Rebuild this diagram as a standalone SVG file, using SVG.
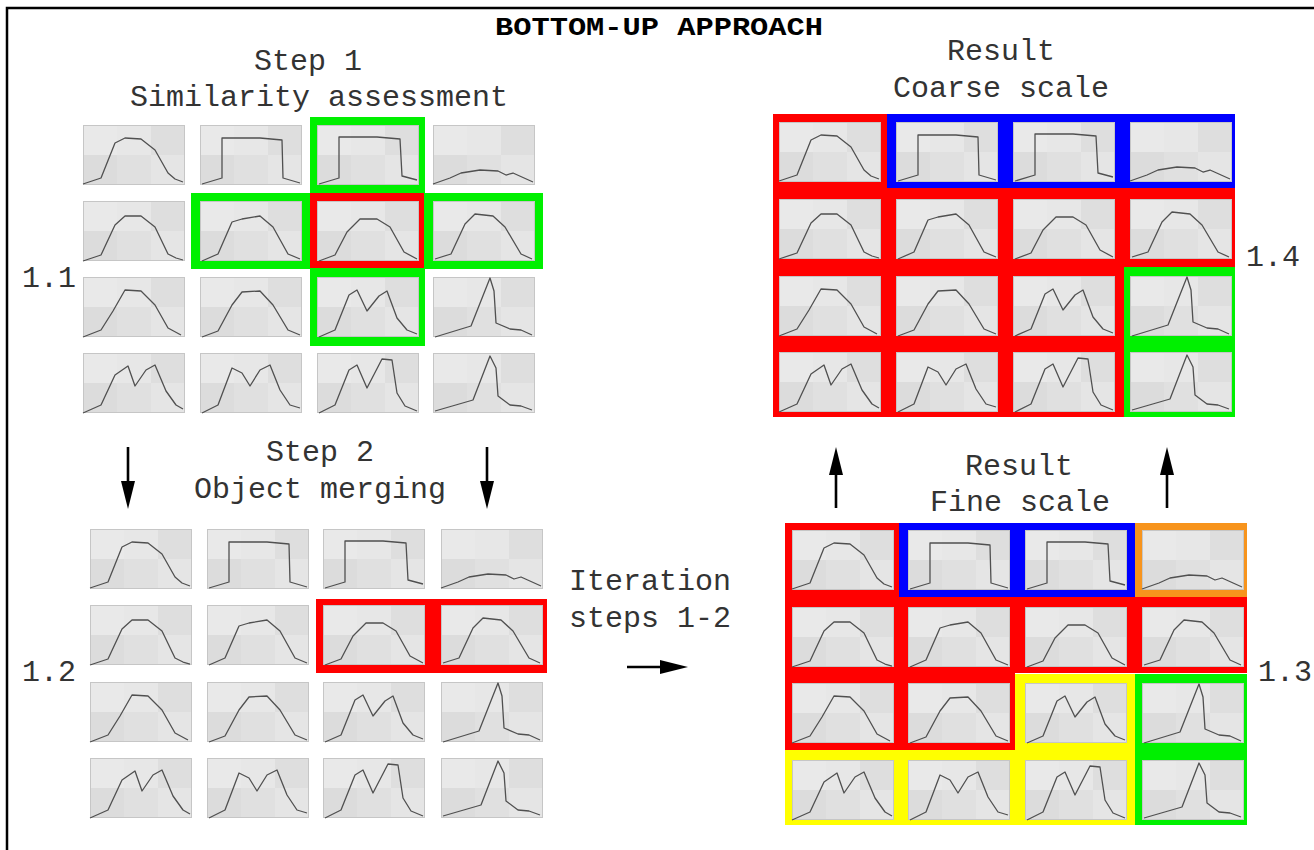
<svg xmlns="http://www.w3.org/2000/svg" xmlns:xlink="http://www.w3.org/1999/xlink" width="1314" height="850" viewBox="0 0 1314 850">
<style>
.t{font-family:"Courier New","Liberation Mono",monospace;font-size:30px;fill:#333;text-anchor:middle}
.tl{font-family:"Courier New","Liberation Mono",monospace;font-size:30px;fill:#333}
.title{font-family:"Courier New","Liberation Mono",monospace;font-size:25px;font-weight:bold;fill:#000;text-anchor:middle}
.pl{fill:none;stroke:#505050;stroke-width:1.3;stroke-linejoin:round}
.arr{stroke:#000;stroke-width:2.6;fill:none}
.red{fill:#ff0000}.grn{fill:#00f000}.blu{fill:#0000ff}.org{fill:#f7941d}.yel{fill:#ffff00}
</style>
<defs>
<marker id="ah" viewBox="0 0 28 14" refX="0" refY="7" markerWidth="28" markerHeight="14" orient="auto" markerUnits="userSpaceOnUse"><path d="M0,0 L28,7 L0,14 z" fill="#000"/></marker>
<g id="bg">
<rect width="102" height="60" fill="#e2e2e2"/>
<rect x="0" y="0" width="34" height="30" fill="#e9e9e9"/>
<rect x="34" y="0" width="34" height="30" fill="#e7e7e7"/>
<rect x="68" y="0" width="34" height="30" fill="#dedede"/>
<rect x="0" y="30" width="34" height="30" fill="#dcdcdc"/>
<rect x="34" y="30" width="34" height="30" fill="#e0e0e0"/>
<rect x="68" y="30" width="34" height="30" fill="#e5e5e5"/>
<rect x="0.5" y="0.5" width="101" height="59" fill="none" stroke="#c6c6c6"/>
</g>
<g id="t1"><use xlink:href="#bg"/><polyline class="pl" points="0,59 18,53 32,18 42,13 58,14 72,25 85,48 92,54 100,57"/></g>
<g id="t2"><use xlink:href="#bg"/><polyline class="pl" points="2,59 22,53 22,13 60,13 82,15 83,53 100,58"/></g>
<g id="t3"><use xlink:href="#bg"/><polyline class="pl" points="2,59 22,53 22,12 60,12 83,14 85,51 100,55"/></g>
<g id="t4"><use xlink:href="#bg"/><polyline class="pl" points="0,59 17,53 28,48 47,45 65,46 73,50 80,48 100,57"/></g>
<g id="t5"><use xlink:href="#bg"/><polyline class="pl" points="0,60 18,54 32,24 42,15 58,15 72,26 85,53 93,57 100,59"/></g>
<g id="t6"><use xlink:href="#bg"/><polyline class="pl" points="2,60 18,53 32,21 42,18 60,15 73,26 88,53 100,58"/></g>
<g id="t7"><use xlink:href="#bg"/><polyline class="pl" points="2,60 18,54 30,31 43,18 60,18 73,26 87,51 100,58"/></g>
<g id="t8"><use xlink:href="#bg"/><polyline class="pl" points="2,58 18,53 32,23 42,13 60,15 72,26 88,53 99,58"/></g>
<g id="t9"><use xlink:href="#bg"/><polyline class="pl" points="0,60 18,53 30,34 42,13 58,14 72,28 85,51 98,58"/></g>
<g id="t10"><use xlink:href="#bg"/><polyline class="pl" points="2,60 18,54 32,28 42,15 60,14 73,28 88,53 100,58"/></g>
<g id="t11"><use xlink:href="#bg"/><polyline class="pl" points="2,60 18,53 32,18 40,13 50,34 62,19 70,14 80,41 90,53 100,57"/></g>
<g id="t12"><use xlink:href="#bg"/><polyline class="pl" points="2,60 38,49 57,1 61,14 63,46 77,52 88,53 99,58"/></g>
<g id="t13"><use xlink:href="#bg"/><polyline class="pl" points="0,60 18,52 32,22 45,13 52,33 63,17 72,12 83,38 93,52 100,56"/></g>
<g id="t14"><use xlink:href="#bg"/><polyline class="pl" points="2,60 18,52 32,15 42,20 50,33 60,17 70,12 80,37 90,52 100,55"/></g>
<g id="t15"><use xlink:href="#bg"/><polyline class="pl" points="2,60 18,52 32,17 40,12 50,35 65,6 75,7 80,40 88,53 100,58"/></g>
<g id="t16"><use xlink:href="#bg"/><polyline class="pl" points="2,58 40,47 57,3 63,15 65,43 77,52 88,53 99,57"/></g>
</defs>
<rect width="1314" height="850" fill="#fff"/>
<path d="M7,850 V8 H1314" fill="none" stroke="#000" stroke-width="2.5"/>

<g id="labels">
<text class="title" x="659" y="35" textLength="328" lengthAdjust="spacingAndGlyphs">BOTTOM-UP APPROACH</text>
<text class="t" x="308" y="70">Step 1</text>
<text class="t" x="319" y="106">Similarity assessment</text>
<text class="t" x="1001" y="60">Result</text>
<text class="t" x="1001" y="97">Coarse scale</text>
<text class="t" x="320" y="461">Step 2</text>
<text class="t" x="320" y="498">Object merging</text>
<text class="t" x="650" y="590">Iteration</text>
<text class="t" x="650" y="627">steps 1-2</text>
<text class="t" x="1019" y="475">Result</text>
<text class="t" x="1020" y="511">Fine scale</text>
<text class="tl" x="22" y="287">1.1</text>
<text class="tl" x="22" y="681">1.2</text>
<text class="tl" x="1258" y="681">1.3</text>
<text class="tl" x="1246" y="266">1.4</text>
</g>

<g id="grid-1-1">
<rect class="grn" x="310" y="117" width="115" height="76"/>
<rect class="grn" x="191" y="193" width="119" height="76"/>
<rect class="grn" x="424" y="193" width="119" height="76"/>
<rect class="grn" x="310" y="268" width="115" height="78"/>
<rect class="red" x="310" y="193" width="114" height="75"/>
<use xlink:href="#t1" x="83" y="125"/><use xlink:href="#t2" x="200" y="125"/><use xlink:href="#t3" x="317" y="125"/><use xlink:href="#t4" x="433" y="125"/>
<use xlink:href="#t5" x="83" y="201"/><use xlink:href="#t6" x="200" y="201"/><use xlink:href="#t7" x="317" y="201"/><use xlink:href="#t8" x="433" y="201"/>
<use xlink:href="#t9" x="83" y="277"/><use xlink:href="#t10" x="200" y="277"/><use xlink:href="#t11" x="317" y="277"/><use xlink:href="#t12" x="433" y="277"/>
<use xlink:href="#t13" x="83" y="353"/><use xlink:href="#t14" x="200" y="353"/><use xlink:href="#t15" x="317" y="353"/><use xlink:href="#t16" x="433" y="353"/>
</g>

<g id="grid-1-2">
<rect class="red" x="316" y="599" width="231" height="74"/>
<use xlink:href="#t1" x="90" y="529"/><use xlink:href="#t2" x="207" y="529"/><use xlink:href="#t3" x="323" y="529"/><use xlink:href="#t4" x="441" y="529"/>
<use xlink:href="#t5" x="90" y="605"/><use xlink:href="#t6" x="207" y="605"/><use xlink:href="#t7" x="323" y="605"/><use xlink:href="#t8" x="441" y="605"/>
<use xlink:href="#t9" x="90" y="682"/><use xlink:href="#t10" x="207" y="682"/><use xlink:href="#t11" x="323" y="682"/><use xlink:href="#t12" x="441" y="682"/>
<use xlink:href="#t13" x="90" y="758"/><use xlink:href="#t14" x="207" y="758"/><use xlink:href="#t15" x="323" y="758"/><use xlink:href="#t16" x="441" y="758"/>
</g>

<g id="grid-1-4">
<rect class="red" x="773" y="114" width="462" height="303"/>
<rect class="blu" x="887" y="114" width="348" height="74"/>
<rect class="grn" x="1124" y="267" width="111" height="150"/>
<use xlink:href="#t1" x="779" y="122"/><use xlink:href="#t2" x="896" y="122"/><use xlink:href="#t3" x="1013" y="122"/><use xlink:href="#t4" x="1130" y="122"/>
<use xlink:href="#t5" x="779" y="199"/><use xlink:href="#t6" x="896" y="199"/><use xlink:href="#t7" x="1013" y="199"/><use xlink:href="#t8" x="1130" y="199"/>
<use xlink:href="#t9" x="779" y="276"/><use xlink:href="#t10" x="896" y="276"/><use xlink:href="#t11" x="1013" y="276"/><use xlink:href="#t12" x="1130" y="276"/>
<use xlink:href="#t13" x="779" y="352"/><use xlink:href="#t14" x="896" y="352"/><use xlink:href="#t15" x="1013" y="352"/><use xlink:href="#t16" x="1130" y="352"/>
</g>

<g id="grid-1-3">
<rect class="red" x="785" y="523" width="114" height="75"/>
<rect class="red" x="785" y="597" width="462" height="76"/>
<rect class="red" x="785" y="672" width="230" height="78"/>
<rect class="blu" x="899" y="523" width="236" height="74"/>
<rect class="org" x="1135" y="523" width="112" height="74"/>
<rect class="yel" x="1015" y="674" width="120" height="151"/>
<rect class="yel" x="785" y="750" width="350" height="75"/>
<rect class="grn" x="1135" y="674" width="112" height="151"/>
<use xlink:href="#t1" x="792" y="530"/><use xlink:href="#t2" x="908" y="530"/><use xlink:href="#t3" x="1025" y="530"/><use xlink:href="#t4" x="1142" y="530"/>
<use xlink:href="#t5" x="792" y="607"/><use xlink:href="#t6" x="908" y="607"/><use xlink:href="#t7" x="1025" y="607"/><use xlink:href="#t8" x="1142" y="607"/>
<use xlink:href="#t9" x="792" y="683"/><use xlink:href="#t10" x="908" y="683"/><use xlink:href="#t11" x="1025" y="683"/><use xlink:href="#t12" x="1142" y="683"/>
<use xlink:href="#t13" x="792" y="760"/><use xlink:href="#t14" x="908" y="760"/><use xlink:href="#t15" x="1025" y="760"/><use xlink:href="#t16" x="1142" y="760"/>
</g>

<g id="connectors">
<line class="arr" x1="128" y1="447" x2="128" y2="481" marker-end="url(#ah)"/>
<line class="arr" x1="487" y1="447" x2="487" y2="481" marker-end="url(#ah)"/>
<line class="arr" x1="836" y1="508" x2="836" y2="475" marker-end="url(#ah)"/>
<line class="arr" x1="1167" y1="508" x2="1167" y2="475" marker-end="url(#ah)"/>
<line class="arr" x1="627" y1="667" x2="660" y2="667" marker-end="url(#ah)"/>
</g>
</svg>
